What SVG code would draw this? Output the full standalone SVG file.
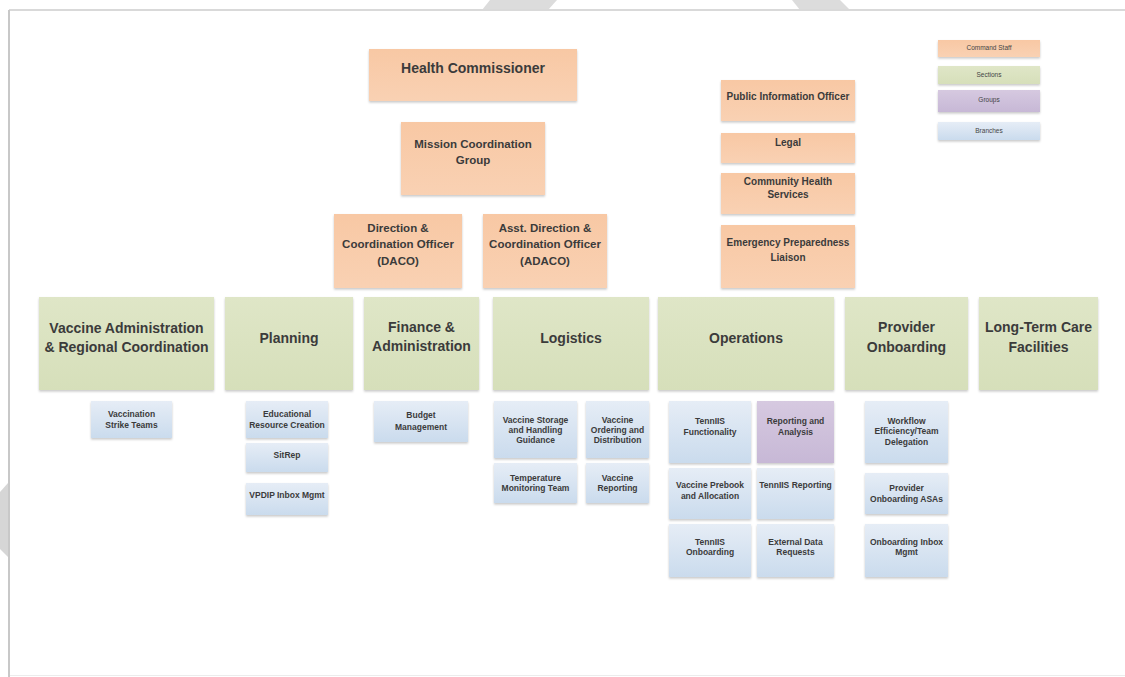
<svg xmlns="http://www.w3.org/2000/svg" width="1125" height="677" viewBox="0 0 1125 677">
<defs>
<linearGradient id="gCmd" x1="0" y1="0" x2="0" y2="1"><stop offset="0" stop-color="#f8c8a4"/><stop offset="1" stop-color="#f9d1b3"/></linearGradient>
<linearGradient id="gSec" x1="0" y1="0" x2="0" y2="1"><stop offset="0" stop-color="#dfe6c7"/><stop offset="1" stop-color="#d6dfba"/></linearGradient>
<linearGradient id="gGrp" x1="0" y1="0" x2="0" y2="1"><stop offset="0" stop-color="#d6c9e0"/><stop offset="1" stop-color="#c7b8d6"/></linearGradient>
<linearGradient id="gBr" x1="0" y1="0" x2="0" y2="1"><stop offset="0" stop-color="#e6edf6"/><stop offset="1" stop-color="#cadbed"/></linearGradient>
<filter id="sh" x="-10%" y="-10%" width="120%" height="130%"><feDropShadow dx="0" dy="1.5" stdDeviation="1.2" flood-color="#000" flood-opacity="0.22"/></filter>
</defs>
<style>
.cmd{fill:url(#gCmd);filter:url(#sh)}
.sec{fill:url(#gSec);filter:url(#sh)}
.grp{fill:url(#gGrp);filter:url(#sh)}
.br{fill:url(#gBr);filter:url(#sh)}
text{font-family:"Liberation Sans",Arial,sans-serif;font-weight:bold;fill:#3b3b3b;text-anchor:middle}
.t14{font-size:14px}
.t13{font-size:13.5px}
.t11{font-size:11.5px}
.t10{font-size:10px}
.t8{font-size:8.5px}
.lg{font-size:6.5px;font-weight:normal;fill:#444}
</style>
<rect width="1125" height="677" fill="#ffffff"/>
<g id="page">
<polygon points="490,0 557,0 548,10 482,10" fill="#dcdcdc"/>
<polygon points="792,0 840,0 850,10 800,10" fill="#dcdcdc"/>
<polygon points="0,492 8,483 8,557 0,549" fill="#d6d6d6"/>
<rect x="10" y="10" width="1115" height="667" fill="#ffffff"/>
<line x1="9" y1="10" x2="1125" y2="10" stroke="#d9d9d9" stroke-width="2"/>
<line x1="9" y1="10" x2="9" y2="677" stroke="#c8c8c8" stroke-width="2"/>
<line x1="10" y1="675.5" x2="1125" y2="675.5" stroke="#ececec" stroke-width="1"/>
</g>
<g id="connectors"/>
<g id="legend">
<rect class="cmd" x="938" y="40" width="102" height="17"/><text class="lg" x="989" y="49.5">Command Staff</text>
<rect class="sec" x="938" y="66" width="102" height="18"/><text class="lg" x="989" y="77">Sections</text>
<rect class="grp" x="938" y="90" width="102" height="22"/><text class="lg" x="989" y="102">Groups</text>
<rect class="br" x="938" y="122" width="102" height="18"/><text class="lg" x="989" y="132.5">Branches</text>
</g>
<g id="health-commissioner"><rect class="cmd" x="369" y="49" width="208" height="52"/><text class="t14" x="473" y="72.5">Health Commissioner</text></g>
<g id="mission-coordination"><rect class="cmd" x="401" y="122" width="144" height="73"/><text class="t11" x="473" y="148">Mission Coordination</text><text class="t11" x="473" y="164">Group</text></g>
<g id="daco"><rect class="cmd" x="334" y="214" width="128" height="74"/><text class="t11" x="398" y="232">Direction &amp;</text><text class="t11" x="398" y="248">Coordination Officer</text><text class="t11" x="398" y="265">(DACO)</text></g>
<g id="adaco"><rect class="cmd" x="483" y="214" width="124" height="74"/><text class="t11" x="545" y="232">Asst. Direction &amp;</text><text class="t11" x="545" y="248">Coordination Officer</text><text class="t11" x="545" y="265">(ADACO)</text></g>
<g id="pio"><rect class="cmd" x="721" y="80" width="134" height="41"/><text class="t10" x="788" y="99.5">Public Information Officer</text></g>
<g id="legal"><rect class="cmd" x="721" y="133" width="134" height="30"/><text class="t10" x="788" y="145.5">Legal</text></g>
<g id="chs"><rect class="cmd" x="721" y="173" width="134" height="41"/><text class="t10" x="788" y="184.5">Community Health</text><text class="t10" x="788" y="197.5">Services</text></g>
<g id="epl"><rect class="cmd" x="721" y="225" width="134" height="63"/><text class="t10" x="788" y="245.5">Emergency Preparedness</text><text class="t10" x="788" y="260.5">Liaison</text></g>

<g id="sec-vaccine-admin"><rect class="sec" x="39" y="297" width="175" height="93"/><text class="t14" x="126.5" y="333">Vaccine Administration</text><text class="t14" x="126.5" y="352">&amp; Regional Coordination</text></g>
<g id="sec-planning"><rect class="sec" x="225" y="297" width="128" height="93"/><text class="t14" x="289" y="343">Planning</text></g>
<g id="sec-finance"><rect class="sec" x="364" y="297" width="115" height="93"/><text class="t14" x="421.5" y="332">Finance &amp;</text><text class="t14" x="421.5" y="351">Administration</text></g>
<g id="sec-logistics"><rect class="sec" x="493" y="297" width="156" height="93"/><text class="t14" x="571" y="343">Logistics</text></g>
<g id="sec-operations"><rect class="sec" x="658" y="297" width="176" height="93"/><text class="t14" x="746" y="343">Operations</text></g>
<g id="sec-provider"><rect class="sec" x="845" y="297" width="123" height="93"/><text class="t14" x="906.5" y="332">Provider</text><text class="t14" x="906.5" y="352">Onboarding</text></g>
<g id="sec-ltc"><rect class="sec" x="979" y="297" width="119" height="93"/><text class="t14" x="1038.5" y="332">Long-Term Care</text><text class="t14" x="1038.5" y="352">Facilities</text></g>

<g id="br-strike"><rect class="br" x="91" y="401" width="81" height="37"/><text class="t8" x="131.5" y="417">Vaccination</text><text class="t8" x="131.5" y="428">Strike Teams</text></g>
<g id="br-edu"><rect class="br" x="246" y="401" width="82" height="37"/><text class="t8" x="287" y="417">Educational</text><text class="t8" x="287" y="428">Resource Creation</text></g>
<g id="br-sitrep"><rect class="br" x="246" y="443" width="82" height="29"/><text class="t8" x="287" y="458">SitRep</text></g>
<g id="br-vpdip"><rect class="br" x="246" y="483" width="82" height="32"/><text class="t8" x="287" y="498">VPDIP Inbox Mgmt</text></g>
<g id="br-budget"><rect class="br" x="374" y="401" width="94" height="41"/><text class="t8" x="421" y="418">Budget</text><text class="t8" x="421" y="430">Management</text></g>
<g id="br-storage"><rect class="br" x="494" y="401" width="83" height="57"/><text class="t8" x="535.5" y="423">Vaccine Storage</text><text class="t8" x="535.5" y="433">and Handling</text><text class="t8" x="535.5" y="443">Guidance</text></g>
<g id="br-ordering"><rect class="br" x="586" y="401" width="63" height="57"/><text class="t8" x="617.5" y="423">Vaccine</text><text class="t8" x="617.5" y="433">Ordering and</text><text class="t8" x="617.5" y="443">Distribution</text></g>
<g id="br-temp"><rect class="br" x="494" y="463" width="83" height="40"/><text class="t8" x="535.5" y="481">Temperature</text><text class="t8" x="535.5" y="491">Monitoring Team</text></g>
<g id="br-vreport"><rect class="br" x="586" y="463" width="63" height="40"/><text class="t8" x="617.5" y="481">Vaccine</text><text class="t8" x="617.5" y="491">Reporting</text></g>
<g id="br-tennfunc"><rect class="br" x="669" y="401" width="82" height="62"/><text class="t8" x="710" y="424">TennIIS</text><text class="t8" x="710" y="435">Functionality</text></g>
<g id="grp-reporting"><rect class="grp" x="757" y="401" width="77" height="62"/><text class="t8" x="795.5" y="424">Reporting and</text><text class="t8" x="795.5" y="435">Analysis</text></g>
<g id="br-prebook"><rect class="br" x="669" y="468" width="82" height="51"/><text class="t8" x="710" y="488">Vaccine Prebook</text><text class="t8" x="710" y="499">and Allocation</text></g>
<g id="br-tennrep"><rect class="br" x="757" y="468" width="77" height="51"/><text class="t8" x="795.5" y="488">TennIIS Reporting</text></g>
<g id="br-tennonb"><rect class="br" x="669" y="524" width="82" height="53"/><text class="t8" x="710" y="545">TennIIS</text><text class="t8" x="710" y="555">Onboarding</text></g>
<g id="br-extdata"><rect class="br" x="757" y="524" width="77" height="53"/><text class="t8" x="795.5" y="545">External Data</text><text class="t8" x="795.5" y="555">Requests</text></g>
<g id="br-workflow"><rect class="br" x="865" y="401" width="83" height="62"/><text class="t8" x="906.5" y="424">Workflow</text><text class="t8" x="906.5" y="434">Efficiency/Team</text><text class="t8" x="906.5" y="445">Delegation</text></g>
<g id="br-asas"><rect class="br" x="865" y="473" width="83" height="41"/><text class="t8" x="906.5" y="491">Provider</text><text class="t8" x="906.5" y="502">Onboarding ASAs</text></g>
<g id="br-inbox"><rect class="br" x="865" y="524" width="83" height="53"/><text class="t8" x="906.5" y="545">Onboarding Inbox</text><text class="t8" x="906.5" y="555">Mgmt</text></g>
</svg>
